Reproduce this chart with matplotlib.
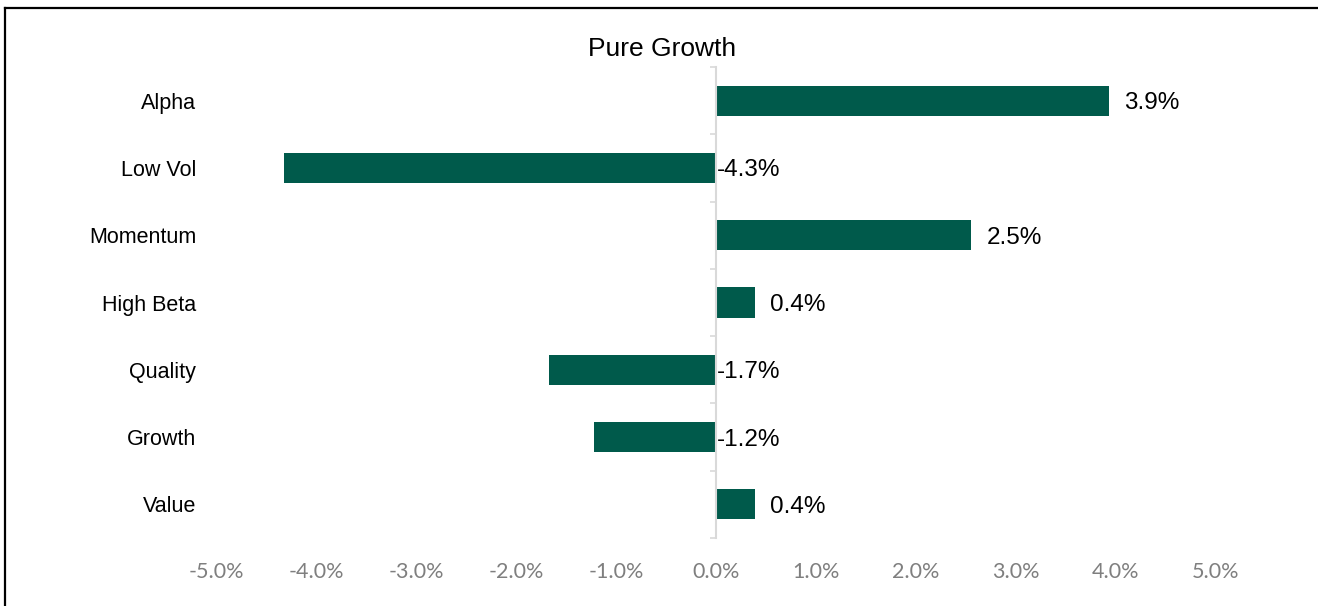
import matplotlib.pyplot as plt
from matplotlib.lines import Line2D
from matplotlib.transforms import blended_transform_factory

categories = ["Alpha", "Low Vol", "Momentum", "High Beta", "Quality", "Growth", "Value"]
values = [3.93, -4.32, 2.55, 0.39, -1.67, -1.22, 0.39]
value_labels = ["3.9%", "-4.3%", "2.5%", "0.4%", "-1.7%", "-1.2%", "0.4%"]
xticks = [-5, -4, -3, -2, -1, 0, 1, 2, 3, 4, 5]

bar_color = "#005a4b"
W, H = 1318, 606

fig = plt.figure(figsize=(W / 100, H / 100), dpi=100)
ax = fig.add_axes([216 / W, 1 - 538 / H, 1000 / W, 471 / H])

y = list(range(len(categories)))
ax.barh(y, values, height=0.45, color=bar_color, zorder=2)

ax.set_xlim(-5, 5)
ax.set_ylim(len(categories) - 0.5, -0.5)

for s in ["top", "right", "bottom"]:
    ax.spines[s].set_visible(False)
ax.spines["left"].set_position(("data", 0))
ax.spines["left"].set_color("#d9d9d9")
ax.spines["left"].set_linewidth(1.5)
ax.spines["left"].set_zorder(3)

ax.set_yticks([])
ax.set_yticks([i - 0.5 for i in range(len(categories) + 1)], minor=True)
ax.tick_params(axis="y", which="minor", length=4.5, width=1.2, color="#d9d9d9", direction="out")

ax.set_xticks(xticks)
ax.set_xticklabels([f"{t:.1f}%" for t in xticks])
ax.tick_params(axis="x", length=0, pad=17, labelsize=15.5, labelcolor="#7f7f7f")
for lbl in ax.get_xticklabels():
    lbl.set_fontfamily("Lato")

# category labels on the left edge
trans = blended_transform_factory(ax.transAxes, ax.transData)
for i, c in enumerate(categories):
    ax.text(-0.02, i, c, transform=trans, ha="right", va="center_baseline",
            fontsize=15.5, family="Liberation Sans", color="black")

# value labels
for i, (v, lab) in enumerate(zip(values, value_labels)):
    if v >= 0:
        ax.annotate(lab, (v, i), xytext=(11, 0), textcoords="offset points",
                    ha="left", va="center_baseline", fontsize=17.5, family="Liberation Sans")
    else:
        ax.annotate(lab, (0, i), xytext=(0.5, 0), textcoords="offset points",
                    ha="left", va="center_baseline", fontsize=17.5, family="Liberation Sans")

fig.text(662 / W, 1 - 46 / H, "Pure Growth", ha="center", va="center_baseline",
         fontsize=19, family="Liberation Sans")

# outer frame (left and top only visible)
fig.add_artist(Line2D([5 / W, 5 / W], [0, 1 - 8 / H], color="black", lw=1.6, transform=fig.transFigure))
fig.add_artist(Line2D([5 / W, 1], [1 - 8 / H, 1 - 8 / H], color="black", lw=1.6, transform=fig.transFigure))

fig.savefig("out.png", dpi=100)
